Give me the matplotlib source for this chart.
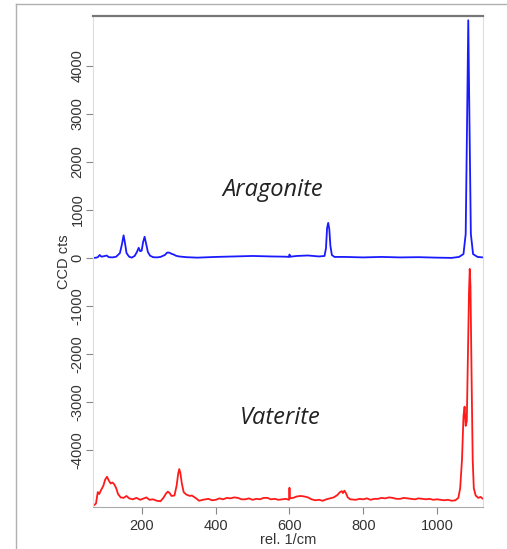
import matplotlib.pyplot as plt
from matplotlib.lines import Line2D

# Aragonite spectrum (rel. 1/cm, CCD cts)
arag_x = [70, 76, 80, 85, 90, 97, 104, 110, 120, 130, 140, 146, 150, 154, 158, 165, 172,
          180, 186, 191, 195, 199, 203, 207, 211, 216, 222, 230, 240, 250, 262, 268, 274,
          280, 286, 292, 300, 320, 350, 400, 450, 500, 550, 590, 599, 600, 602, 620, 650,
          680, 695, 699, 702, 705, 708, 711, 715, 722, 750, 800, 850, 900, 950, 1000,
          1040, 1060, 1072, 1078, 1082, 1085, 1088, 1092, 1098, 1110, 1125]
arag_y = [0, 5, 15, 60, 25, 35, 50, 15, 10, 25, 100, 300, 470, 300, 100, 25, 5,
          40, 120, 210, 140, 150, 330, 440, 300, 120, 45, 15, 10, 20, 60, 110, 110,
          85, 70, 45, 30, 15, 5, 20, 30, 40, 30, 25, 20, 70, 25, 40, 50,
          30, 40, 200, 620, 730, 600, 250, 60, 20, 20, 10, 20, 10, 15, 5,
          0, 20, 80, 500, 3000, 4950, 3000, 500, 80, 20, 10]

# Vaterite spectrum (offset below)
vat_x = [70, 75, 80, 84, 88, 95, 100, 105, 110, 115, 120, 125, 130, 135, 142, 150, 158,
         165, 175, 185, 195, 205, 212, 220, 230, 240, 250, 258, 265, 270, 275, 280, 288,
         294, 298, 301, 304, 308, 313, 320, 330, 335, 345, 355, 365, 380, 390, 400, 410,
         420, 430, 440, 450, 460, 470, 480, 490, 500, 510, 520, 530, 540, 550, 560, 570,
         580, 590, 599, 600, 601, 610, 620, 630, 640, 650, 660, 670, 680, 690, 700, 710,
         720, 730, 737, 742, 745, 749, 753, 758, 765, 780, 790, 800, 810, 820, 830, 840,
         850, 860, 870, 880, 890, 900, 910, 920, 930, 940, 950, 960, 970, 980, 990, 1000,
         1010, 1020, 1030, 1040, 1050, 1058, 1063, 1068, 1072, 1075, 1078, 1081, 1084,
         1087, 1089, 1091, 1094, 1097, 1100, 1105, 1112, 1118, 1125]
vat_y = [-5150, -5120, -4880, -4920, -4850, -4750, -4620, -4560, -4640, -4700, -4680,
         -4720, -4800, -4920, -4990, -5000, -4960, -5010, -5030, -5000, -5040, -5010,
         -4990, -5040, -5030, -5060, -5070, -5000, -4910, -4870, -4900, -4960, -4950,
         -4740, -4500, -4400, -4480, -4700, -4880, -4930, -4960, -4950, -5000, -5060,
         -5040, -5020, -5050, -5040, -5010, -5030, -5000, -5010, -4990, -5000, -5030,
         -5030, -5010, -5040, -5020, -5030, -5000, -5000, -5030, -5020, -5040, -5030,
         -5020, -5040, -4790, -5010, -5000, -4970, -4960, -4970, -4990, -5030, -5050,
         -5040, -5060, -5030, -5010, -4990, -4940, -4880, -4860, -4900, -4850, -4900,
         -4990, -5030, -5040, -5020, -5030, -5010, -5040, -5020, -5020, -5000, -5010,
         -4990, -5000, -5020, -5020, -5000, -5010, -5020, -5030, -5010, -5020, -5030,
         -5020, -5040, -5030, -5040, -5050, -5040, -5060, -5050, -5000, -4800, -4200,
         -3300, -3100, -3500, -3400, -2000, -700, -230, -600, -2500, -4200, -4800,
         -4950, -5000, -4980, -5020]

yticks = [4000, 3000, 2000, 1000, 0, -1000, -2000, -3000, -4000]
xticks = [200, 400, 600, 800, 1000]

plt.rcParams['font.family'] = ['Liberation Sans', 'DejaVu Sans']
fig = plt.figure(figsize=(5.07, 5.49), dpi=100)
ax = fig.add_axes([0.1834, 0.0765, 0.7693, 0.8944])

ax.plot(arag_x, arag_y, color='#1a1aff', lw=1.3)
ax.plot(vat_x, vat_y, color='#ff1a1a', lw=1.3)

ax.set_xlim(67, 1125)
ax.set_ylim(-5190, 5040)
ax.set_xticks(xticks)
ax.set_yticks(yticks)
ax.set_yticklabels([str(t) for t in yticks], rotation=90, va='center')
ax.tick_params(direction='out', length=5, color='#888888', labelcolor='#333333',
               labelsize=10.5)
ax.tick_params(axis='y', pad=1)

for s in ['left', 'right']:
    ax.spines[s].set_color('#dddddd')
ax.spines['top'].set_color('#777777')
ax.spines['top'].set_linewidth(1.6)
ax.spines['bottom'].set_color('#aaaaaa')

ax.set_ylabel('CCD cts', fontsize=10.5, color='#333333', labelpad=0)
ax.set_xlabel('rel. 1/cm', fontsize=10.5, color='#333333', labelpad=0)

ax.text(0.46, 0.646, 'Aragonite', transform=ax.transAxes, fontsize=17,
        style='italic', family='Open Sans', color='#222222', ha='center', va='center')
ax.text(0.48, 0.181, 'Vaterite', transform=ax.transAxes, fontsize=17,
        style='italic', family='Open Sans', color='#222222', ha='center', va='center')

# outer frame of the screenshot
fig.add_artist(Line2D([16 / 507, 1], [1 - 4 / 549, 1 - 4 / 549], color='#b0b0b0', lw=1))
fig.add_artist(Line2D([16 / 507, 16 / 507], [0, 1 - 4 / 549], color='#b0b0b0', lw=1))

fig.savefig('out.png', dpi=100)
